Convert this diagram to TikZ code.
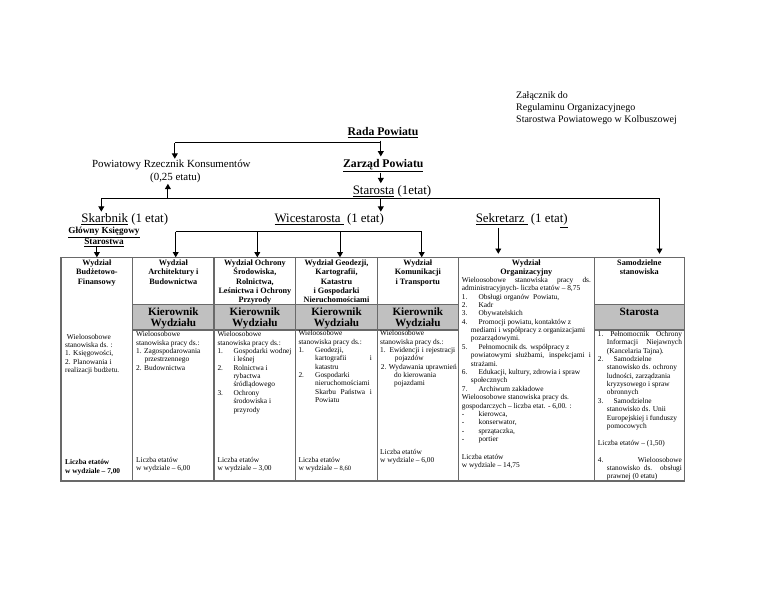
\documentclass[tikz,border=0pt]{standalone}
\usepackage{fontspec}
\setmainfont{Liberation Serif}
\usepackage{xcolor}
\usetikzlibrary{arrows.meta}
\definecolor{bandgray}{RGB}{192,192,192}
\definecolor{rulegray}{RGB}{105,105,105}
\newcommand{\annexfont}{\fontsize{8.5}{10.5}\selectfont}
\newcommand{\topfont}{\fontsize{10}{12}\selectfont\bfseries}
\newcommand{\midfont}{\fontsize{9.3}{10.6}\selectfont}
\newcommand{\bigfont}{\fontsize{11}{13}\selectfont}
\newcommand{\subfont}{\fontsize{7.9}{9}\selectfont\bfseries}
\newcommand{\headfont}{\fontsize{7}{7.9}\selectfont\bfseries}
\newcommand{\bandfont}{\fontsize{9.5}{9.4}\selectfont\bfseries}
\newcommand{\bodyfont}{\fontsize{6.3}{7.15}\selectfont}
\newcommand{\sumfont}{\fontsize{6.3}{7.9}\selectfont\bfseries}
\newcommand{\numbox}[2][4.8mm]{\makebox[#1][l]{#2}}
\newcommand{\justline}[2]{\makebox[#1][s]{#2}}

\begin{document}
\begin{tikzpicture}[x=0.3mm,y=-0.3mm,
    lbl/.style={anchor=base,inner sep=2pt,text height=0.7em,text depth=0.25em},
    arr/.style={draw=black,line width=0.8pt,-{Triangle[width=5pt,length=4.5pt]}},
    bus/.style={draw=black,line width=0.8pt},
    tbl/.style={draw=rulegray,line width=0.9pt},
    head/.style={anchor=north,align=center,font=\headfont,inner xsep=0pt,inner ysep=2pt},
    band/.style={anchor=north,align=center,font=\bandfont,inner sep=0pt},
    body/.style={anchor=north west,align=left,font=\bodyfont,inner sep=0pt}]
    \useasboundingbox (0,0) rectangle (768,593);
    \fill[white] (0,0) rectangle (768,593);

    % table
    \fill[bandgray] (132.7,304.3) rectangle (458.3,330);
    \fill[bandgray] (594.3,304.3) rectangle (684.3,330);
    \draw[tbl] (61,257.3) rectangle (684.3,481);
    \foreach \x in {132.7,214,295.7,377.3,458.3,594.3}
        \draw[tbl] (\x,257.3) -- (\x,481);
    \foreach \a/\b in {132.7/458.3,594.3/684.3}
        \draw[tbl] (\a,304.3) -- (\b,304.3) (\a,330) -- (\b,330);

    \node[head] (h1) at (96.9,257.3) {Wydział\\Budżetowo-\\Finansowy};
    \node[head] (h2) at (173.4,257.3) {Wydział\\Architektury i\\Budownictwa};
    \node[head] (h3) at (254.9,257.3) {Wydział Ochrony\\Środowiska,\\Rolnictwa,\\Leśnictwa i Ochrony\\Przyrody};
    \node[head] (h4) at (336.5,257.3) {Wydział Geodezji,\\Kartografii,\\Katastru\\i Gospodarki\\Nieruchomościami};
    \node[head] (h5) at (417.8,257.3) {Wydział\\Komunikacji\\i Transportu};
    \node[head] (h6) at (526.3,257.3) {Wydział\\Organizacyjny};
    \node[head] (h7) at (639.3,257.3) {Samodzielne\\stanowiska};

    \foreach \x/\n in {173.4/k2,254.9/k3,336.5/k4,417.8/k5}
        \node[band] (\n) at (\x,307.5) {Kierownik\\Wydziału};
    \node[band] (k7) at (639.3,307.5) {Starosta};

    \node[body] (b1) at (65,333.7) {\hspace*{1.5pt}Wieloosobowe\\stanowiska ds. :\\1. Księgowości,\\2. Planowania i\\realizacji budżetu.};
    \node[body,font=\sumfont] (e1) at (65,459.3) {Liczba etatów\\w wydziale – 7,00};

    \node[body] (b2) at (136,331.3) {Wieloosobowe\\stanowiska pracy ds.:\\1. Zagospodarowania\\\hspace*{2.5mm}przestrzennego\\2. Budownictwa};
    \node[body] (e2) at (136,457) {Liczba etatów\\w wydziale – 6,00};

    \node[body] (b3) at (217.3,331.3) {Wieloosobowe\\stanowiska pracy ds.:\\
        \numbox{1.}Gospodarki wodnej\\\hspace*{4.8mm}i leśnej\\
        \numbox{2.}Rolnictwa i\\\hspace*{4.8mm}rybactwa\\\hspace*{4.8mm}śródlądowego\\
        \numbox{3.}Ochrony\\\hspace*{4.8mm}środowiska i\\\hspace*{4.8mm}przyrody};
    \node[body] (e3) at (217.3,457) {Liczba etatów\\w wydziale – 3,00};

    \node[body] (b4) at (298.3,330.3) {Wieloosobowe\\stanowiska pracy ds.:\\
        \numbox[5mm]{1.}Geodezji,\\\hspace*{5mm}\justline{17mm}{kartografii i}\\\hspace*{5mm}katastru\\
        \numbox[5mm]{2.}Gospodarki\\\hspace*{5mm}nieruchomościami\\\hspace*{5mm}\justline{17mm}{Skarbu Państwa i}\\\hspace*{5mm}Powiatu};
    \node[body] (e4) at (298.3,457) {Liczba etatów\\w wydziale – {\fontsize{5.6}{7}\selectfont 8,60}};

    \node[body] (b5) at (380,330.3) {Wieloosobowe\\stanowiska pracy ds.:\\
        \justline{22.5mm}{1. Ewidencji i rejestracji}\\\hspace*{4.4mm}pojazdów\\
        \hspace*{0.2mm}2. Wydawania uprawnień\\\hspace*{4.2mm}do kierowania\\\hspace*{4.2mm}pojazdami};
    \node[body] (e5) at (380,448.7) {Liczba etatów\\w wydziale – 6,00};

    \node[body] (b6) at (461.7,277) {\justline{38.7mm}{Wieloosobowe stanowiska pracy ds.}\\
        administracyjnych- liczba etatów – 8,75\\
        \numbox[5mm]{1.}Obsługi organów\ \ Powiatu,\\
        \numbox[5mm]{2.}Kadr\\
        \numbox[5mm]{3.}Obywatelskich\\
        \numbox[5mm]{4.}Promocji powiatu, kontaktów z\\
        \hspace*{2.7mm}mediami i współpracy z organizacjami\\
        \hspace*{2.7mm}pozarządowymi.\\
        \numbox[5mm]{5.}Pełnomocnik ds. współpracy z\\
        \hspace*{2.7mm}\justline{36mm}{powiatowymi służbami, inspekcjami i}\\
        \hspace*{2.7mm}strażami.\\
        \numbox[5mm]{6.}Edukacji, kultury, zdrowia i spraw\\
        \hspace*{2.7mm}społecznych\\
        \numbox[5mm]{7.}Archiwum zakładowe\\
        Wieloosobowe stanowiska pracy ds.\\
        gospodarczych – liczba etat. - 6,00. :\\
        \numbox[5mm]{-}kierowca,\\
        \numbox[5mm]{-}konserwator,\\
        \numbox[5mm]{-}sprzątaczka,\\
        \numbox[5mm]{-}portier};
    \node[body] (e6) at (461.7,453.7) {Liczba etatów\\w wydziale – 14,75};

    \node[body] (b7) at (597.7,331) {\justline{25.2mm}{\numbox[3.7mm]{1.}Pełnomocnik Ochrony}\\
        \hspace*{2.7mm}\justline{22.5mm}{Informacji Niejawnych}\\
        \hspace*{2.7mm}(Kancelaria Tajna).\\
        \numbox[4.7mm]{2.}Samodzielne\\
        \hspace*{2.7mm}stanowisko ds. ochrony\\
        \hspace*{2.7mm}ludności, zarządzania\\
        \hspace*{2.7mm}kryzysowego i spraw\\
        \hspace*{2.7mm}obronnych\\
        \numbox[4.7mm]{3.}Samodzielne\\
        \hspace*{2.7mm}stanowisko ds. Unii\\
        \hspace*{2.7mm}Europejskiej i funduszy\\
        \hspace*{2.7mm}pomocowych\\[7.15pt]
        Liczba etatów – (1,50)\\[7.15pt]
        \justline{25.2mm}{4.\hfill Wieloosobowe}\\
        \hspace*{2.7mm}\justline{22.5mm}{stanowisko ds. obsługi}\\
        \hspace*{2.7mm}prawnej (0 etatu)};

    % top of the chart
    \node[anchor=north west,align=left,font=\annexfont,inner sep=0pt] (annex) at (516,91)
        {Załącznik do\\Regulaminu Organizacyjnego\\Starostwa Powiatowego w Kolbuszowej};
    \node[lbl,font=\topfont] (rada) at (383,135) {\underline{Rada Powiatu}};
    \node[anchor=north,align=center,font=\midfont,inner sep=1pt] (rzecznik) at (171.3,158.7)
        {Powiatowy Rzecznik Konsumentów\\\hspace*{2.4mm}(0,25 etatu)};
    \node[lbl,font=\topfont] (zarzad) at (383.3,167.2) {\underline{Zarząd Powiatu}};
    \node[lbl,font=\bigfont] (starosta) at (392,194) {\underline{Starosta} (1etat)};
    \node[lbl,font=\bigfont] (skarbnik) at (124.8,222.4) {\underline{Skarbnik} (1 etat)};
    \node[anchor=north,align=center,font=\subfont,inner sep=0pt] (glowny) at (104,227.1)
        {\underline{Główny Księgowy}\\\underline{Starostwa}};
    \node[lbl,font=\bigfont] (wice) at (329.2,222.4) {\underline{Wicestarosta\ } (1 etat)};
    \node[lbl,font=\bigfont] (sekretarz) at (521.8,222.4) {\underline{Sekretarz\ } (1 eta\underline{t)}};

    % connectors
    \coordinate (r1) at (174.8,142.9);
    \coordinate (r2) at (380.8,142.9);
    \draw[bus] (rada.south -| r2) -- (r2) -- (r1);
    \draw[arr] (r1) -- (r1 |- rzecznik.north);
    \draw[arr] (r2) -- (r2 |- zarzad.north);
    \draw[arr] (zarzad.south -| r2) -- (r2 |- starosta.north);

    \coordinate (s0) at (167.9,198.5);
    \coordinate (s1) at (101.3,198.5);
    \coordinate (s2) at (380.8,198.5);
    \coordinate (s3) at (659.5,198.5);
    \draw[bus] (s1) -- (s3);
    \draw[arr] (s0) -- (s0 |- rzecznik.south);
    \draw[arr] (s1) -- (s1 |- skarbnik.north);
    \draw[arr] (s2) -- (s2 |- wice.north);
    \draw[arr,shorten >=3pt] (s3) -- (s3 |- h7.north);
    \draw[arr] (h1.north |- glowny.south) -- (h1.north);

    \coordinate (w2) at (175.7,231.7);
    \coordinate (w3) at (257.3,231.7);
    \coordinate (w4) at (340,231.7);
    \coordinate (w5) at (421.7,231.7);
    \draw[bus] (w2) -- (w5);
    \foreach \c/\h in {w2/h2,w3/h3,w4/h4,w5/h5}
        \draw[arr] (\c) -- (\c |- \h.north);

    \coordinate (k1) at (498.3,257.3);
    \draw[arr,shorten >=3pt] (sekretarz.south -| k1) -- (k1);
\end{tikzpicture}
\end{document}
